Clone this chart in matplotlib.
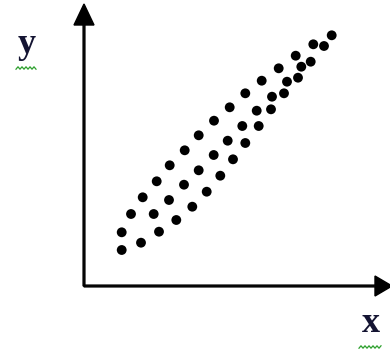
import matplotlib
matplotlib.use("Agg")
import matplotlib.pyplot as plt
import numpy as np

# Data (arbitrary units, origin at the axes corner)
upper_x = [37.7, 47, 58.7, 72.7, 85.7, 100.7, 114.7, 130, 145.7, 161.3, 177.7, 194.7, 211.7, 229.3, 247.7]
upper_y = [53.7, 72, 88.7, 104.7, 120.7, 135.7, 150.7, 165.3, 178.7, 192.7, 205.3, 217.7, 230.3, 241.7, 250.7]
middle_x = [69.7, 85, 100, 114.7, 129.7, 143.7, 158.3, 172.7, 188, 203, 217.3, 240]
middle_y = [72, 86, 101.3, 115.7, 131, 145.3, 160, 175.3, 189.3, 204.3, 219.3, 240]
lower_x = [37.7, 57, 75, 92.3, 108.3, 122.7, 136.3, 149, 161.3, 174.7, 187, 200, 214, 226.7]
lower_y = [36, 43.3, 54.3, 66, 79.3, 94.3, 110.3, 126.7, 143, 160, 176.7, 192.7, 208.3, 224.3]

x_label = "x"
y_label = "y"

fig = plt.figure(figsize=(3.9, 3.54), dpi=100)
ax = fig.add_axes([0, 0, 1, 1])
ax.set_xlim(-84, 306)
ax.set_ylim(-68, 286)
ax.axis("off")

for xs, ys in [(upper_x, upper_y), (middle_x, middle_y), (lower_x, lower_y)]:
    ax.scatter(xs, ys, s=50, color="black", edgecolors="none", zorder=3)

# Axes arrows
ax.arrow(0, 0, 0, 282, width=1.8, head_width=20, head_length=21,
         length_includes_head=True, color="black", zorder=2)
ax.arrow(0, 0, 308, 0, width=1.8, head_width=20, head_length=17,
         length_includes_head=True, color="black", zorder=2)

# Labels
ax.text(-57.5, 233, y_label, fontsize=26, family="Liberation Serif",
        weight="bold", color="#141432", ha="center", va="baseline")
ax.text(286.5, -46, x_label, fontsize=26, family="Liberation Serif",
        weight="bold", color="#141432", ha="center", va="baseline")

# spell-check squiggles
def squiggle(x0, x1, y):
    xs = np.arange(x0, x1 + 0.01, 2.0)
    ys = [y + (1.2 if i % 2 else -1.2) for i in range(len(xs))]
    ax.plot(xs, ys, color="#2ca02c", lw=0.9)

squiggle(-68, -48, 218)
squiggle(275, 297, -61)

fig.savefig("out.png", dpi=100)
